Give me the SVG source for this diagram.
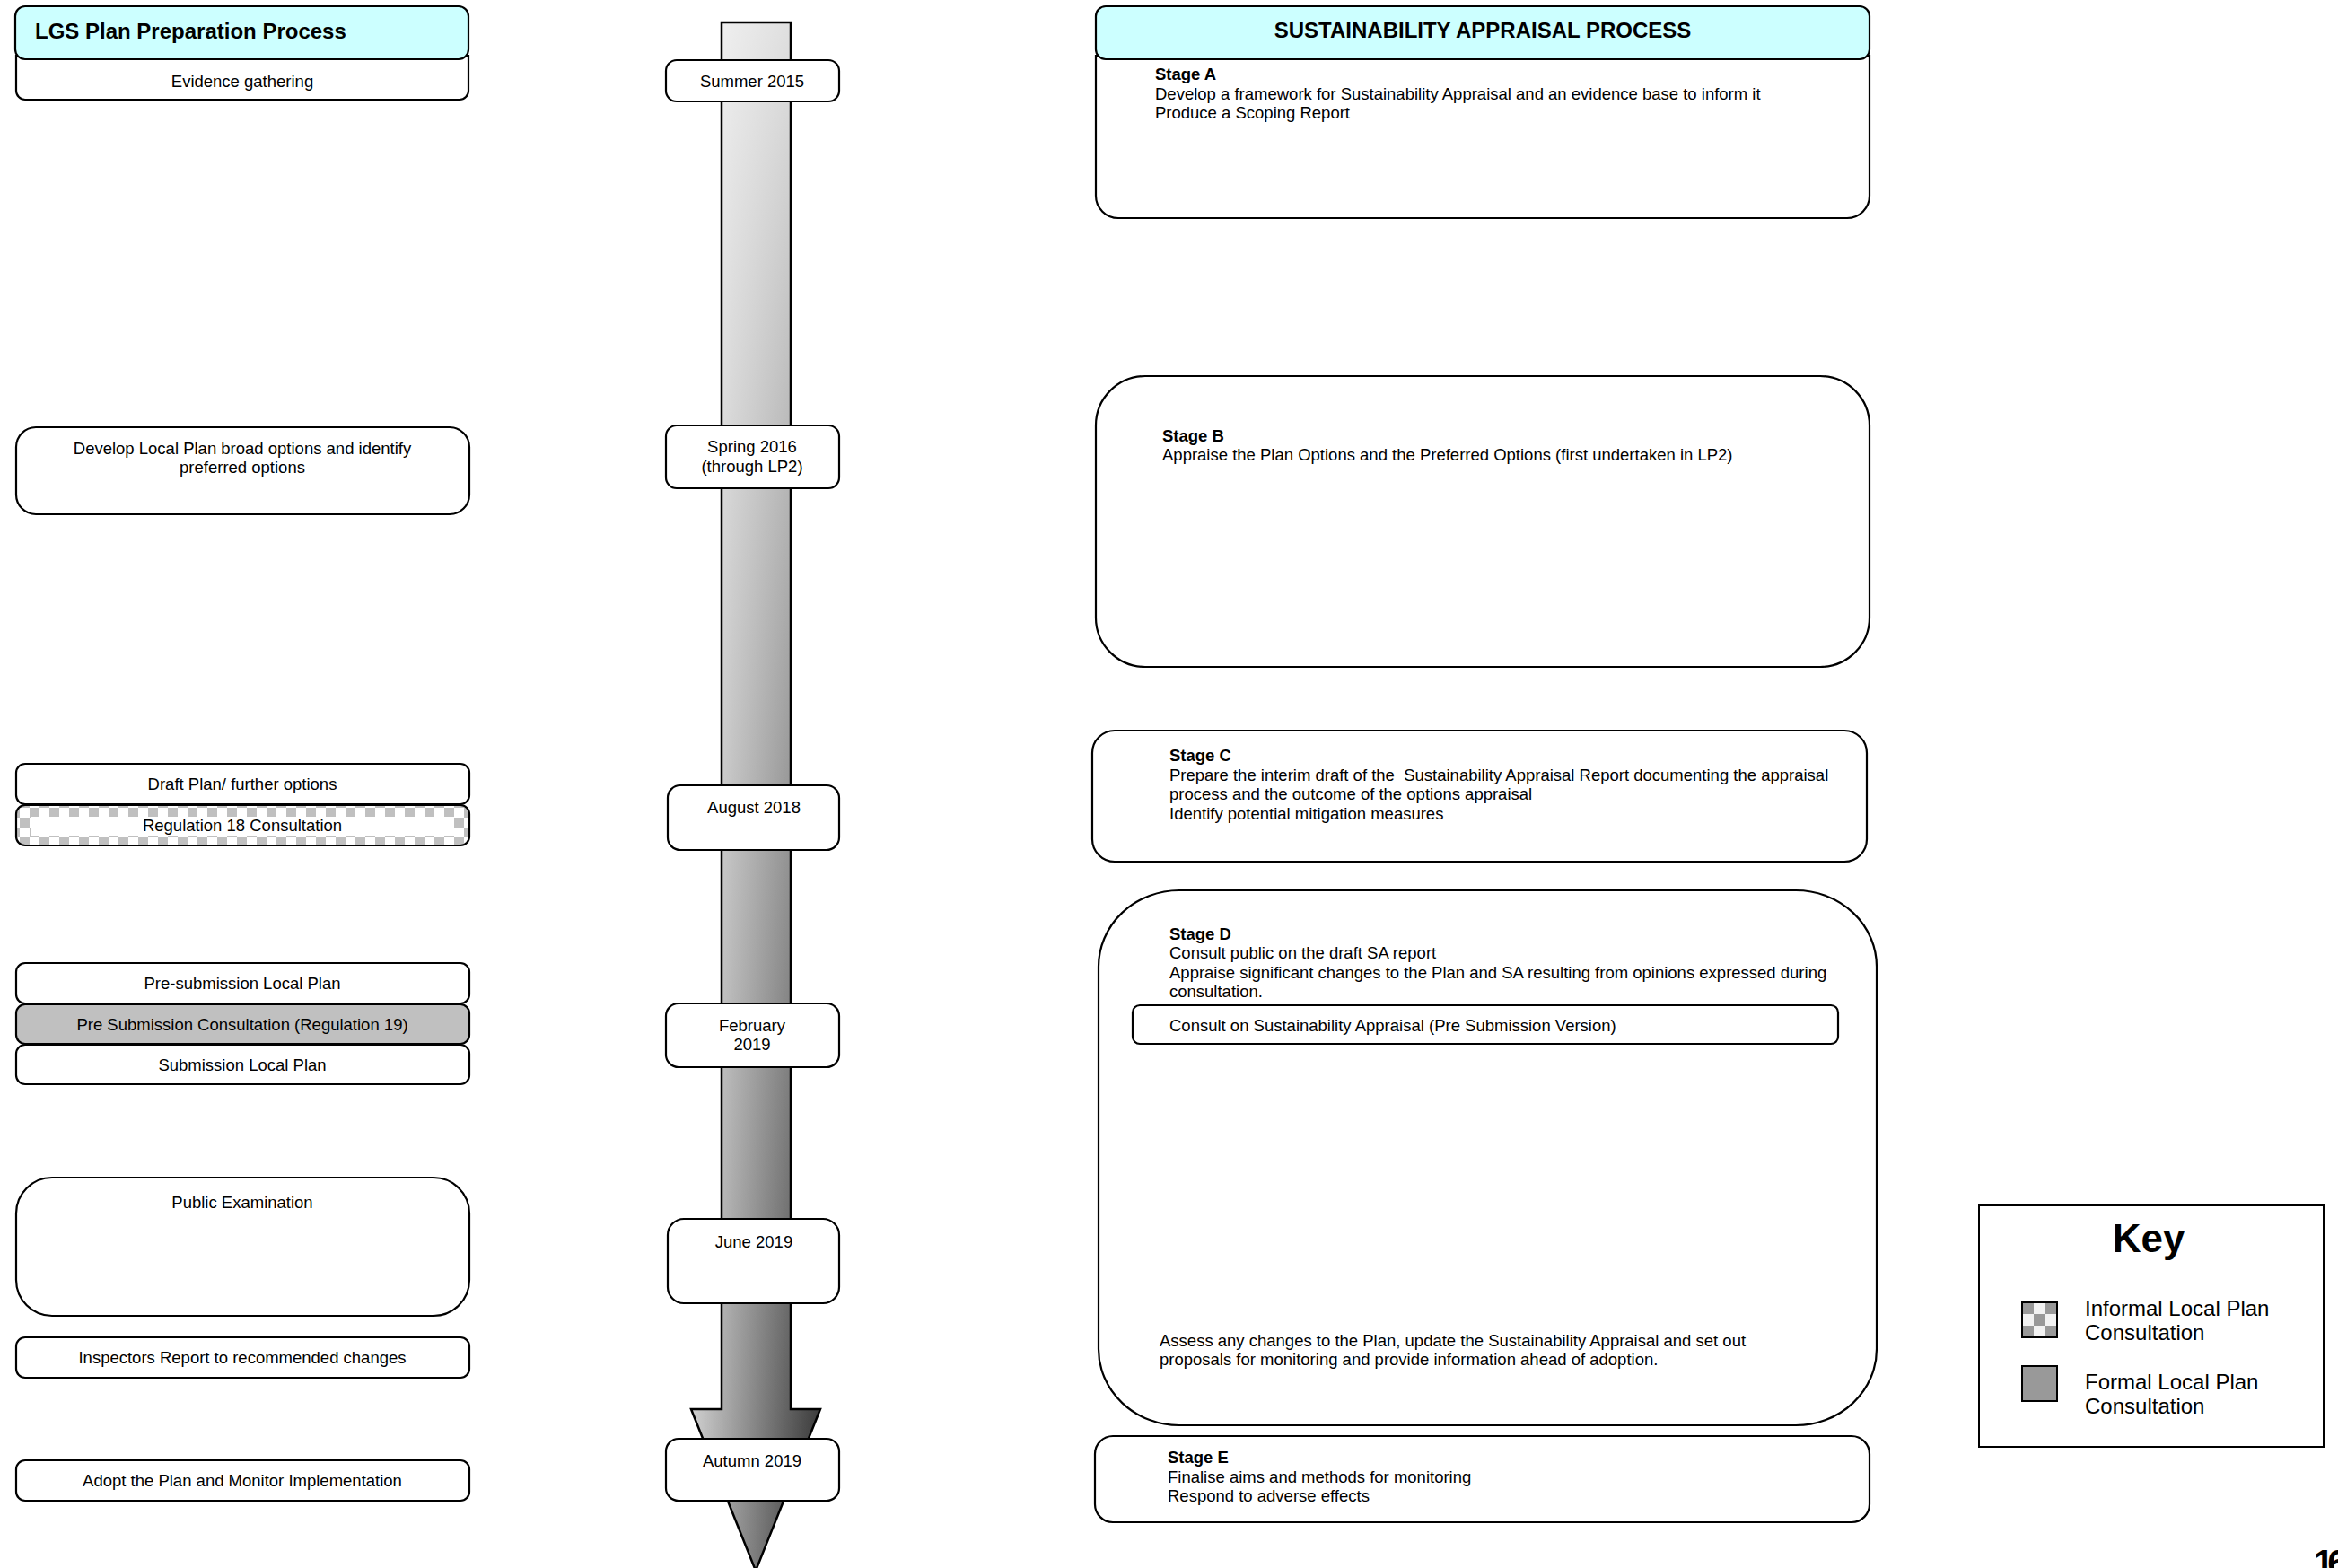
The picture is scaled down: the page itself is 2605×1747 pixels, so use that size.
<svg xmlns="http://www.w3.org/2000/svg" width="2605" height="1747" viewBox="0 0 2605 1747">
<style>
.t{font-family:"Liberation Sans",Arial,sans-serif;font-size:18.5px;fill:#000}
.c{text-anchor:middle}
.b{font-weight:bold}
.box{fill:#fff;stroke:#000;stroke-width:2.2}
.hdr{fill:#ccffff;stroke:#000;stroke-width:2.2}
.pre{white-space:pre}
</style>
<defs>
<linearGradient id="gH" gradientUnits="userSpaceOnUse" x1="770" y1="0" x2="914" y2="0">
<stop offset="0" stop-color="#cccccc"/>
<stop offset="1" stop-color="#2a2a2a"/>
</linearGradient>
<linearGradient id="gV" gradientUnits="userSpaceOnUse" x1="0" y1="25" x2="0" y2="1750">
<stop offset="0" stop-color="#fff" stop-opacity="0.82"/>
<stop offset="1" stop-color="#fff" stop-opacity="0"/>
</linearGradient>
<pattern id="chk" patternUnits="userSpaceOnUse" x="0" y="900" width="22" height="22">
<rect width="22" height="22" fill="#fff"/>
<rect x="11" y="0" width="11" height="11" fill="#c0c0c0"/>
<rect x="0" y="11" width="11" height="11" fill="#c0c0c0"/>
</pattern>
<pattern id="chk2" patternUnits="userSpaceOnUse" x="2253" y="1451" width="26" height="26">
<rect width="26" height="26" fill="#f2f2f2"/>
<rect x="0" y="0" width="13" height="13" fill="#999"/>
<rect x="13" y="13" width="13" height="13" fill="#999"/>
</pattern>
</defs>

<g id="connectors">
<path d="M804,25 H881 V1570 H914 L842,1750 L770,1570 H804 Z" fill="url(#gH)"/>
<path d="M804,25 H881 V1570 H914 L842,1750 L770,1570 H804 Z" fill="url(#gV)" stroke="#000" stroke-width="2.5" stroke-linejoin="miter"/>
</g>

<!-- Left column -->
<g id="lgs-evidence">
<path class="box" d="M18,62 H522 V101 a10,10 0 0 1 -10,10 H28 a10,10 0 0 1 -10,-10 Z"/>
<text class="t c" x="270" y="97">Evidence gathering</text>
</g>
<g id="lgs-header">
<rect class="hdr" x="17" y="7" width="505" height="59" rx="11"/>
<text class="t b" x="39" y="43" style="font-size:24px">LGS Plan Preparation Process</text>
</g>
<g id="lgs-develop">
<rect class="box" x="18" y="476" width="505" height="97" rx="22"/>
<text class="t c" x="270" y="506">Develop Local Plan broad options and identify</text>
<text class="t c" x="270" y="527">preferred options</text>
</g>
<g id="lgs-draft">
<rect class="box" x="18" y="851" width="505" height="45" rx="10"/>
<text class="t c" x="270" y="880">Draft Plan/ further options</text>
</g>
<g id="lgs-reg18">
<rect x="18" y="897" width="505" height="45" rx="10" fill="url(#chk)"/>
<rect x="35" y="910" width="471" height="21" fill="#fff"/>
<rect x="18" y="897" width="505" height="45" rx="10" fill="none" stroke="#000" stroke-width="2.2"/>
<text class="t c" x="270" y="926">Regulation 18 Consultation</text>
</g>
<g id="lgs-presub">
<rect class="box" x="18" y="1073" width="505" height="45" rx="10"/>
<text class="t c" x="270" y="1102">Pre-submission Local Plan</text>
</g>
<g id="lgs-reg19">
<rect x="18" y="1119" width="505" height="44" rx="10" fill="#c0c0c0" stroke="#000" stroke-width="2.2"/>
<text class="t c" x="270" y="1148">Pre Submission Consultation (Regulation 19)</text>
</g>
<g id="lgs-submission">
<rect class="box" x="18" y="1164" width="505" height="44" rx="10"/>
<text class="t c" x="270" y="1193">Submission Local Plan</text>
</g>
<g id="lgs-exam">
<rect class="box" x="18" y="1312" width="505" height="154" rx="40"/>
<text class="t c" x="270" y="1346">Public Examination</text>
</g>
<g id="lgs-inspectors">
<rect class="box" x="18" y="1490" width="505" height="45" rx="10"/>
<text class="t c" x="270" y="1519">Inspectors Report to recommended changes</text>
</g>
<g id="lgs-adopt">
<rect class="box" x="18" y="1627" width="505" height="45" rx="10"/>
<text class="t c" x="270" y="1656">Adopt the Plan and Monitor Implementation</text>
</g>

<!-- Timeline dates -->
<g id="date-summer2015">
<rect class="box" x="742" y="67" width="193" height="46" rx="12"/>
<text class="t c" x="838" y="97">Summer 2015</text>
</g>
<g id="date-spring2016">
<rect class="box" x="742" y="474" width="193" height="70" rx="12"/>
<text class="t c" x="838" y="504">Spring 2016</text>
<text class="t c" x="838" y="526">(through LP2)</text>
</g>
<g id="date-aug2018">
<rect class="box" x="744" y="875" width="191" height="72" rx="14"/>
<text class="t c" x="840" y="906">August 2018</text>
</g>
<g id="date-feb2019">
<rect class="box" x="742" y="1118" width="193" height="71" rx="14"/>
<text class="t c" x="838" y="1149">February</text>
<text class="t c" x="838" y="1170">2019</text>
</g>
<g id="date-jun2019">
<rect class="box" x="744" y="1358" width="191" height="94" rx="18"/>
<text class="t c" x="840" y="1390">June 2019</text>
</g>
<g id="date-autumn2019">
<rect class="box" x="742" y="1603" width="193" height="69" rx="14"/>
<text class="t c" x="838" y="1634">Autumn 2019</text>
</g>

<!-- SA column -->
<g id="sa-stageA">
<path class="box" d="M1221,62 H2083 V218 a25,25 0 0 1 -25,25 H1246 a25,25 0 0 1 -25,-25 Z"/>
<text class="t b" x="1287" y="89">Stage A</text>
<text class="t" x="1287" y="111">Develop a framework for Sustainability Appraisal and an evidence base to inform it</text>
<text class="t" x="1287" y="132">Produce a Scoping Report</text>
</g>
<g id="sa-header">
<rect class="hdr" x="1221" y="7" width="862" height="59" rx="11"/>
<text class="t b c" x="1652" y="42" style="font-size:24px">SUSTAINABILITY APPRAISAL PROCESS</text>
</g>
<g id="sa-stageB">
<rect class="box" x="1221" y="419" width="862" height="324" rx="55"/>
<text class="t b" x="1295" y="492">Stage B</text>
<text class="t" x="1295" y="513">Appraise the Plan Options and the Preferred Options (first undertaken in LP2)</text>
</g>
<g id="sa-stageC">
<rect class="box" x="1217" y="814" width="863" height="146" rx="25"/>
<text class="t b" x="1303" y="848">Stage C</text>
<text class="t pre" x="1303" y="870">Prepare the interim draft of the  Sustainability Appraisal Report documenting the appraisal</text>
<text class="t" x="1303" y="891">process and the outcome of the options appraisal</text>
<text class="t" x="1303" y="913">Identify potential mitigation measures</text>
</g>
<g id="sa-stageD">
<rect class="box" x="1224" y="992" width="867" height="596" rx="90" ry="85"/>
<text class="t b" x="1303" y="1047">Stage D</text>
<text class="t" x="1303" y="1068">Consult public on the draft SA report</text>
<text class="t" x="1303" y="1090">Appraise significant changes to the Plan and SA resulting from opinions expressed during</text>
<text class="t" x="1303" y="1111">consultation.</text>
<text class="t" x="1292" y="1500">Assess any changes to the Plan, update the Sustainability Appraisal and set out</text>
<text class="t" x="1292" y="1521">proposals for monitoring and provide information ahead of adoption.</text>
</g>
<g id="sa-consult">
<rect class="box" x="1262" y="1120" width="786" height="43" rx="8"/>
<text class="t" x="1303" y="1149">Consult on Sustainability Appraisal (Pre Submission Version)</text>
</g>
<g id="sa-stageE">
<rect class="box" x="1220" y="1600" width="863" height="96" rx="20"/>
<text class="t b" x="1301" y="1630">Stage E</text>
<text class="t" x="1301" y="1652">Finalise aims and methods for monitoring</text>
<text class="t" x="1301" y="1673">Respond to adverse effects</text>
</g>

<!-- Key -->
<g id="key">
<rect x="2205" y="1343" width="384" height="269" fill="#fff" stroke="#000" stroke-width="2"/>
<text class="t b c" x="2394" y="1395" style="font-size:44px">Key</text>
<rect x="2253" y="1451" width="39" height="39" fill="url(#chk2)" stroke="#000" stroke-width="2"/>
<text class="t" x="2323" y="1466" style="font-size:24px">Informal Local Plan</text>
<text class="t" x="2323" y="1493" style="font-size:24px">Consultation</text>
<rect x="2253" y="1522" width="39" height="39" fill="#999" stroke="#000" stroke-width="2"/>
<text class="t" x="2323" y="1548" style="font-size:24px">Formal Local Plan</text>
<text class="t" x="2323" y="1575" style="font-size:24px">Consultation</text>
</g>

<g id="page-number">
<text class="t b" x="2578" y="1755" style="font-size:40px;letter-spacing:-7px">16</text>
</g>
</svg>
